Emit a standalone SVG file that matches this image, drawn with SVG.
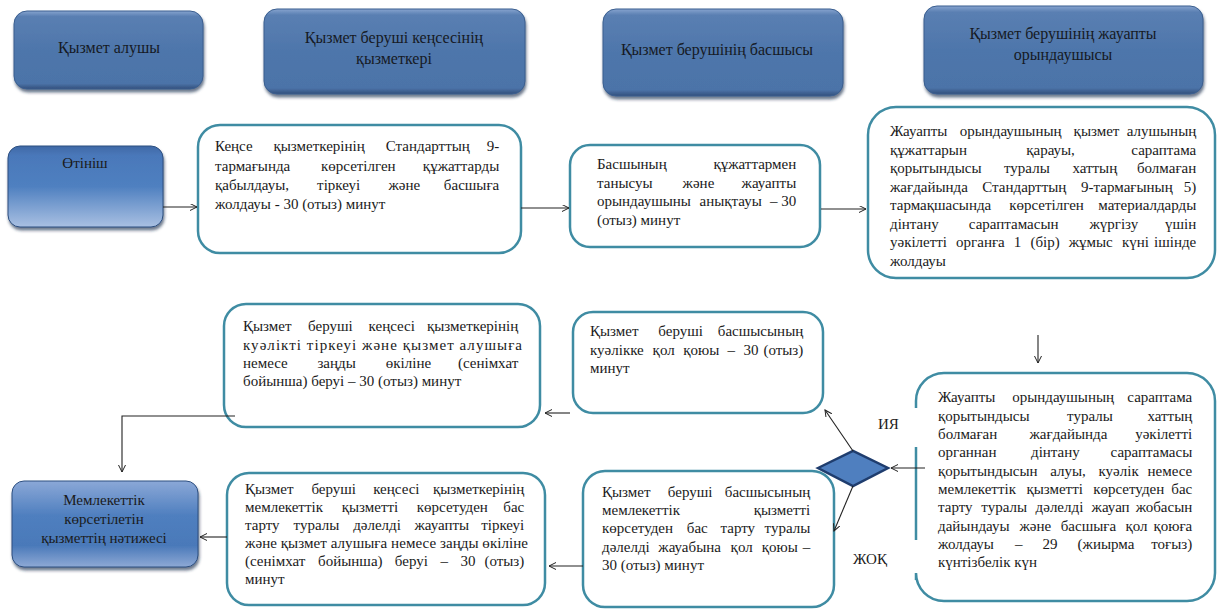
<svg xmlns="http://www.w3.org/2000/svg" width="1219" height="609" viewBox="0 0 1219 609">
<style>
.t{font-family:"Liberation Serif","Times New Roman",serif;font-size:15px;fill:#1a1a1a}
.h{font-family:"Liberation Serif","Times New Roman",serif;font-size:16px;fill:#161a24;text-anchor:middle}
.pb{fill:#ffffff;stroke:#3f8ca3;stroke-width:2.5}
.hb{fill:url(#gHdr);stroke:#3a5e8f;stroke-width:1}
.c{fill:none;stroke:#222;stroke-width:1.1}
.ar{marker-end:url(#ah)}
</style>
<defs>
<linearGradient id="gHdr" x1="0" y1="0" x2="0" y2="1">
<stop offset="0" stop-color="#86a4cf"/>
<stop offset="0.07" stop-color="#5a7fb2"/>
<stop offset="0.5" stop-color="#4e76ab"/>
<stop offset="0.93" stop-color="#4c73a8"/>
<stop offset="1" stop-color="#33507c"/>
</linearGradient>
<linearGradient id="gIn" x1="0" y1="0" x2="0" y2="1">
<stop offset="0" stop-color="#3f69a6"/>
<stop offset="0.12" stop-color="#4a78ba"/>
<stop offset="0.5" stop-color="#4f80c0"/>
<stop offset="1" stop-color="#a9c0e2"/>
</linearGradient>
<linearGradient id="gOut" x1="0" y1="0" x2="0" y2="1">
<stop offset="0" stop-color="#8ba8d7"/>
<stop offset="0.4" stop-color="#4f7fbf"/>
<stop offset="0.75" stop-color="#4a79b9"/>
<stop offset="1" stop-color="#8ea9d5"/>
</linearGradient>
<filter id="sh" x="-10%" y="-10%" width="125%" height="135%">
<feDropShadow dx="1" dy="3" stdDeviation="1.5" flood-color="#1d3150" flood-opacity="0.65"/>
</filter>
<marker id="ah" markerWidth="10" markerHeight="10" refX="7" refY="3.5" orient="auto" markerUnits="userSpaceOnUse">
<path d="M0,0 L7,3.5 L0,7" fill="none" stroke="#222" stroke-width="1"/>
</marker>
</defs>
<rect width="1219" height="609" fill="#ffffff"/>

<g id="hdr1"><rect class="hb" x="14" y="11" width="189" height="78" rx="13" filter="url(#sh)"/><text class="h" x="109" y="53">Қызмет алушы</text></g>
<g id="hdr2"><rect class="hb" x="264" y="9" width="261" height="85" rx="13" filter="url(#sh)"/><text class="h"><tspan x="394" y="43">Қызмет беруші кеңсесінің</tspan><tspan x="394" y="64">қызметкері</tspan></text></g>
<g id="hdr3"><rect class="hb" x="603" y="9" width="240" height="87" rx="13" filter="url(#sh)"/><text class="h" x="717" y="55">Қызмет берушінің басшысы</text></g>
<g id="hdr4"><rect class="hb" x="924" y="6" width="279" height="88" rx="13" filter="url(#sh)"/><text class="h"><tspan x="1063" y="39">Қызмет берушінің жауапты</tspan><tspan x="1063" y="60">орындаушысы</tspan></text></g>

<g id="start"><rect x="8" y="146" width="155" height="81" rx="12" fill="url(#gIn)" stroke="#2d4f80" stroke-width="1" filter="url(#sh)"/><text class="t" x="85" y="168" text-anchor="middle">Өтініш</text></g>

<g id="boxA"><rect class="pb" x="198" y="125" width="323" height="128" rx="22"/>
<text class="t">
<tspan x="215" y="151">Кеңсе</tspan><tspan x="273.5" y="151">қызметкерінің</tspan><tspan x="385.8" y="151">Стандарттың</tspan><tspan x="503" y="151" text-anchor="end">9-</tspan>
<tspan x="215" y="170.5">тармағында</tspan><tspan x="321" y="170.5">көрсетілген</tspan><tspan x="503" y="170.5" text-anchor="end">құжаттарды</tspan>
<tspan x="215" y="190">қабылдауы,</tspan><tspan x="317.1" y="190">тіркеуі</tspan><tspan x="388.5" y="190">және</tspan><tspan x="503" y="190" text-anchor="end">басшыға</tspan>
<tspan x="215" y="209">жолдауы - 30 (отыз) минут</tspan>
</text></g>

<g id="boxB"><rect class="pb" x="570" y="145" width="250" height="102" rx="20"/>
<text class="t">
<tspan x="597" y="169">Басшының</tspan><tspan x="800" y="169" text-anchor="end">құжаттармен</tspan>
<tspan x="597" y="187.5">танысуы</tspan><tspan x="682.6" y="187.5">және</tspan><tspan x="800" y="187.5" text-anchor="end">жауапты</tspan>
<tspan x="597" y="206">орындаушыны</tspan><tspan x="699.5" y="206">анықтауы</tspan><tspan x="769.9" y="206">–</tspan><tspan x="800" y="206" text-anchor="end">30</tspan>
<tspan x="597" y="224.5">(отыз) минут</tspan>
</text></g>

<g id="boxC"><rect class="pb" x="868" y="107" width="347" height="171" rx="28"/>
<text class="t">
<tspan x="890" y="136">Жауапты</tspan><tspan x="959.7" y="136">орындаушының</tspan><tspan x="1073.6" y="136">қызмет</tspan><tspan x="1200" y="136" text-anchor="end">алушының</tspan>
<tspan x="890" y="154.5">құжаттарын</tspan><tspan x="1026.2" y="154.5">қарауы,</tspan><tspan x="1200" y="154.5" text-anchor="end">сараптама</tspan>
<tspan x="890" y="173">қорытындысы</tspan><tspan x="1004" y="173">туралы</tspan><tspan x="1072.4" y="173">хаттың</tspan><tspan x="1200" y="173" text-anchor="end">болмаған</tspan>
<tspan x="890" y="191.5">жағдайында</tspan><tspan x="982.3" y="191.5">Стандарттың</tspan><tspan x="1081.1" y="191.5">9-тармағының</tspan><tspan x="1200" y="191.5" text-anchor="end">5)</tspan>
<tspan x="890" y="210">тармақшасында</tspan><tspan x="1009.2" y="210">көрсетілген</tspan><tspan x="1200" y="210" text-anchor="end">материалдарды</tspan>
<tspan x="890" y="228.5">дінтану</tspan><tspan x="968.8" y="228.5">сараптамасын</tspan><tspan x="1089.4" y="228.5">жүргізу</tspan><tspan x="1200" y="228.5" text-anchor="end">үшін</tspan>
<tspan x="890" y="247">уәкілетті</tspan><tspan x="956.1" y="247">органға</tspan><tspan x="1013.8" y="247">1</tspan><tspan x="1030.4" y="247">(бір)</tspan><tspan x="1068.7" y="247">жұмыс</tspan><tspan x="1121.9" y="247">күні</tspan><tspan x="1200" y="247" text-anchor="end">ішінде</tspan>
<tspan x="890" y="265.5">жолдауы</tspan>
</text></g>

<g id="boxE"><path class="pb" d="M916,408 V401 A28,28 0 0 1 944,373 H1187 A28,28 0 0 1 1215,401 V573 A28,28 0 0 1 1187,601 H944 A28,28 0 0 1 916,573 V580"/>
<line x1="916" y1="447" x2="916" y2="540" stroke="#3f8ca3" stroke-width="2.5"/>
<text class="t">
<tspan x="938" y="402">Жауапты</tspan><tspan x="1012.2" y="402">орындаушының</tspan><tspan x="1196" y="402" text-anchor="end">сараптама</tspan>
<tspan x="938" y="420.5">қорытындысы</tspan><tspan x="1067.1" y="420.5">туралы</tspan><tspan x="1196" y="420.5" text-anchor="end">хаттың</tspan>
<tspan x="938" y="439">болмаған</tspan><tspan x="1029.5" y="439">жағдайында</tspan><tspan x="1196" y="439" text-anchor="end">уәкілетті</tspan>
<tspan x="938" y="457">органнан</tspan><tspan x="1031" y="457">дінтану</tspan><tspan x="1196" y="457" text-anchor="end">сараптамасы</tspan>
<tspan x="938" y="475.5">қорытындысын</tspan><tspan x="1050.2" y="475.5">алуы,</tspan><tspan x="1098.5" y="475.5">куәлік</tspan><tspan x="1196" y="475.5" text-anchor="end">немесе</tspan>
<tspan x="938" y="494">мемлекеттік</tspan><tspan x="1026.4" y="494">қызметті</tspan><tspan x="1093.2" y="494">көрсетуден</tspan><tspan x="1196" y="494" text-anchor="end">бас</tspan>
<tspan x="938" y="512">тарту</tspan><tspan x="981.3" y="512">туралы</tspan><tspan x="1035.6" y="512">дәлелді</tspan><tspan x="1091.6" y="512">жауап</tspan><tspan x="1196" y="512" text-anchor="end">жобасын</tspan>
<tspan x="938" y="530.5">дайындауы</tspan><tspan x="1019.5" y="530.5">және</tspan><tspan x="1060.7" y="530.5">басшыға</tspan><tspan x="1125.5" y="530.5">қол</tspan><tspan x="1196" y="530.5" text-anchor="end">қоюға</tspan>
<tspan x="938" y="549">жолдауы</tspan><tspan x="1015.1" y="549">–</tspan><tspan x="1042.6" y="549">29</tspan><tspan x="1077.6" y="549">(жиырма</tspan><tspan x="1196" y="549" text-anchor="end">тоғыз)</tspan>
<tspan x="938" y="567">күнтізбелік күн</tspan>
</text></g>

<g id="decision"><polygon points="818,468 853,451 888,468 853,486" fill="#4f7fbf" stroke="#1f3d6e" stroke-width="2.5"/></g>

<g id="boxD"><rect class="pb" x="573" y="312" width="250" height="101" rx="20"/>
<text class="t">
<tspan x="590" y="336">Қызмет</tspan><tspan x="658.3" y="336">беруші</tspan><tspan x="807" y="336" text-anchor="end">басшысының</tspan>
<tspan x="590" y="354.5">куәлікке</tspan><tspan x="652.6" y="354.5">қол</tspan><tspan x="683.2" y="354.5">қоюы</tspan><tspan x="727.6" y="354.5">–</tspan><tspan x="743.4" y="354.5">30</tspan><tspan x="807" y="354.5" text-anchor="end">(отыз)</tspan>
<tspan x="590" y="373">минут</tspan>
</text></g>

<g id="boxF"><rect class="pb" x="583" y="471" width="251" height="136" rx="22"/>
<text class="t">
<tspan x="602" y="496.5">Қызмет</tspan><tspan x="667.8" y="496.5">беруші</tspan><tspan x="814" y="496.5" text-anchor="end">басшысының</tspan>
<tspan x="602" y="514.5">мемлекеттік</tspan><tspan x="814" y="514.5" text-anchor="end">қызметті</tspan>
<tspan x="602" y="533">көрсетуден</tspan><tspan x="686.8" y="533">бас</tspan><tspan x="720.5" y="533">тарту</tspan><tspan x="814" y="533" text-anchor="end">туралы</tspan>
<tspan x="602" y="551.5">дәлелді</tspan><tspan x="658.3" y="551.5">жауабына</tspan><tspan x="730.6" y="551.5">қол</tspan><tspan x="761.7" y="551.5">қоюы</tspan><tspan x="814" y="551.5" text-anchor="end">–</tspan>
<tspan x="602" y="570">30 (отыз) минут</tspan>
</text></g>

<g id="boxH"><rect class="pb" x="224" y="304" width="316" height="123" rx="22"/>
<text class="t">
<tspan x="243" y="331">Қызмет</tspan><tspan x="308.1" y="331">беруші</tspan><tspan x="368.6" y="331">кеңсесі</tspan><tspan x="522" y="331" text-anchor="end">қызметкерінің</tspan>
<tspan x="243" y="368">немесе</tspan><tspan x="317.4" y="368">заңды</tspan><tspan x="385.8" y="368">өкіліне</tspan><tspan x="522" y="368" text-anchor="end">(сенімхат</tspan>
<tspan x="243" y="386">бойынша) беруі – 30 (отыз) минут</tspan>
</text>
<text class="t" x="243" y="349.5" textLength="279" lengthAdjust="spacing">куәлікті тіркеуі және қызмет алушыға</text>
</g>

<g id="boxG"><rect class="pb" x="227" y="473" width="318" height="132" rx="22"/>
<text class="t">
<tspan x="245" y="494">Қызмет</tspan><tspan x="311.4" y="494">беруші</tspan><tspan x="373.2" y="494">кеңсесі</tspan><tspan x="528" y="494" text-anchor="end">қызметкерінің</tspan>
<tspan x="245" y="512">мемлекеттік</tspan><tspan x="341.7" y="512">қызметті</tspan><tspan x="416.8" y="512">көрсетуден</tspan><tspan x="528" y="512" text-anchor="end">бас</tspan>
<tspan x="245" y="530">тарту</tspan><tspan x="293.6" y="530">туралы</tspan><tspan x="353.2" y="530">дәлелді</tspan><tspan x="414.5" y="530">жауапты</tspan><tspan x="528" y="530" text-anchor="end">тіркеуі</tspan>
<tspan x="245" y="566">(сенімхат</tspan><tspan x="318.1" y="566">бойынша)</tspan><tspan x="394.8" y="566">беруі</tspan><tspan x="440.5" y="566">–</tspan><tspan x="460.4" y="566">30</tspan><tspan x="528" y="566" text-anchor="end">(отыз)</tspan>
<tspan x="245" y="583.5">минут</tspan>
</text>
<text class="t" x="245" y="548" textLength="283" lengthAdjust="spacing">және қызмет алушыға немесе заңды өкіліне</text>
</g>

<g id="result"><rect x="12" y="481" width="186" height="86" rx="12" fill="url(#gOut)" stroke="#2d4f80" stroke-width="1" filter="url(#sh)"/>
<text class="t" text-anchor="middle"><tspan x="104" y="505">Мемлекеттік</tspan><tspan x="104" y="524">көрсетілетін</tspan><tspan x="104" y="543">қызметтің  нәтижесі</tspan></text></g>

<g id="labels">
<text class="t" x="878" y="429">ИЯ</text>
<text class="t" x="853" y="564">ЖОҚ</text>
</g>

<g id="connectors">
<line class="c ar" x1="163" y1="207" x2="197" y2="207"/>
<line class="c ar" x1="521" y1="208" x2="569" y2="208"/>
<line class="c ar" x1="821" y1="209" x2="866" y2="209"/>
<line class="c ar" x1="1038" y1="335" x2="1038" y2="363"/>
<line class="c ar" x1="925" y1="468" x2="891" y2="468"/>
<line class="c ar" x1="853" y1="451" x2="825" y2="410"/>
<line class="c ar" x1="853" y1="486" x2="834" y2="531"/>
<line class="c ar" x1="570" y1="413" x2="545" y2="413"/>
<line class="c ar" x1="583" y1="566" x2="549" y2="566"/>
<polyline class="c ar" points="235,416 122,416 122,472"/>
<line class="c ar" x1="227" y1="537" x2="200" y2="537"/>
</g>
</svg>
